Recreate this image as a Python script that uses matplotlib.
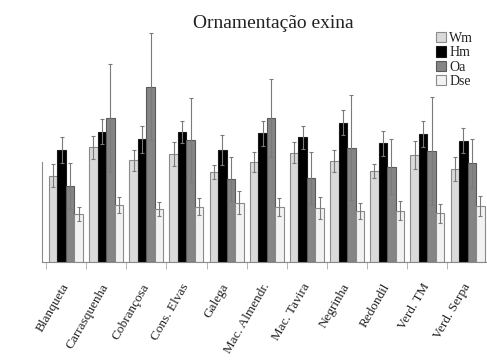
import numpy as np
import matplotlib.pyplot as plt
from matplotlib.patches import Patch

plt.rcParams['font.family'] = ['Liberation Serif', 'DejaVu Serif']

cultivars = ['Blanqueta', 'Carrasquenha', 'Cobrançosa', 'Cons. Elvas', 'Galega',
             'Mac. Almendr.', 'Mac. Tavira', 'Negrinha', 'Redondil', 'Verd. TM',
             'Verd. Serpa']
series = ['Wm', 'Hm', 'Oa', 'Dse']

wm = [8.63, 11.47, 10.17, 10.80, 9.00, 10.03, 10.93, 10.10, 9.10, 10.70, 9.30]
hm = [11.20, 13.03, 12.27, 13.00, 11.20, 12.87, 12.47, 13.93, 11.87, 12.80, 12.13]
oa = [7.63, 14.37, 17.53, 12.20, 8.27, 14.37, 8.37, 11.43, 9.53, 11.10, 9.87]
dse = [4.80, 5.70, 5.30, 5.53, 5.93, 5.47, 5.37, 5.10, 5.13, 4.87, 5.60]

wm_err = [1.17, 1.13, 1.03, 1.17, 0.70, 1.00, 1.04, 1.10, 0.70, 1.40, 1.17]
hm_err = [1.30, 1.27, 1.33, 1.13, 1.50, 1.26, 1.13, 1.27, 1.26, 1.33, 1.24]
oa_err = [2.30, 5.40, 5.34, 4.23, 2.20, 3.90, 2.60, 5.27, 2.74, 5.37, 2.43]
dse_err = [0.73, 0.83, 0.73, 0.84, 1.17, 0.90, 1.10, 0.77, 0.97, 0.93, 1.00]

values = [wm, hm, oa, dse]
errors = [wm_err, hm_err, oa_err, dse_err]
fills = ['#dadada', '#000000', '#858585', '#f2f2f2']
edges = ['#8a8a8a', '#1a1a1a', '#5a5a5a', '#8a8a8a']

fig = plt.figure(figsize=(4.87, 3.63), dpi=100)
ax = fig.add_axes([42 / 487, 101 / 363, 1 - 42 / 487, 240 / 363])

x = np.arange(len(cultivars))
w = 0.2115
for i in range(4):
    ax.bar(x + (i - 1.5) * w, values[i], w, color=fills[i], edgecolor=edges[i],
           linewidth=0.8, yerr=errors[i],
           error_kw=dict(ecolor='#7a7a7a', elinewidth=0.8, capsize=1.5, capthick=0.8))

ax.set_xlim(-0.597, 10.485)
ax.set_ylim(0, 24)

for s in ['top', 'right']:
    ax.spines[s].set_visible(False)
ax.spines['left'].set_bounds(0, 10)
ax.spines['left'].set_color('#8a8a8a')
ax.spines['bottom'].set_color('#8a8a8a')
ax.spines['left'].set_linewidth(0.8)
ax.spines['bottom'].set_linewidth(0.8)
ax.set_yticks([])

ax.set_xticks(x)
ax.set_xticklabels(cultivars, rotation=60, ha='right', va='center',
                   rotation_mode='anchor', fontsize=9.5, color='#222222')
ax.tick_params(axis='x', which='major', length=0, pad=16)
ax.set_xticks(x - 0.5, minor=True)
ax.tick_params(axis='x', which='minor', length=5, width=0.6, color='#aaaaaa')

fig.text(273 / 487, 1 - 23 / 363, 'Ornamentação exina', ha='center', va='center',
         fontsize=14, color='#222222')

handles = [Patch(facecolor=fills[i], edgecolor=edges[i], linewidth=0.8) for i in range(4)]
fig.legend(handles, series, loc='upper left', bbox_to_anchor=(436 / 487, 1 - 32 / 363),
           frameon=False, fontsize=10, handlelength=0.75, handleheight=0.75,
           handletextpad=0.2, labelspacing=0.1, borderpad=0, borderaxespad=0,
           labelcolor='#222222')

plt.savefig('out.png', dpi=100)
